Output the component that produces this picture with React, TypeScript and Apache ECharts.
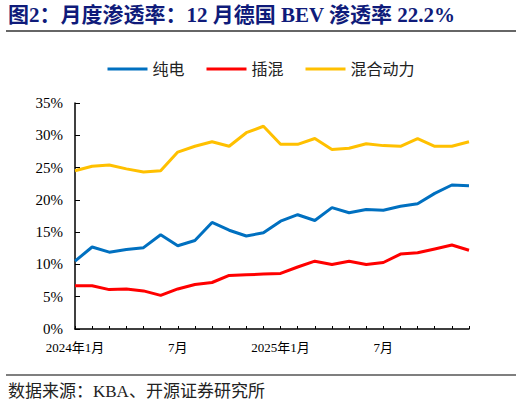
import { useEffect, useRef } from 'react';
import * as echarts from 'echarts';

const months = [
  '2024年1月', '2月', '3月', '4月', '5月', '6月', '7月', '8月', '9月', '10月', '11月', '12月',
  '2025年1月', '2月', '3月', '4月', '5月', '6月', '7月', '8月', '9月', '10月', '11月', '12月',
];
const shownLabels = [0, 6, 12, 18];

const bev = [
  10.5, 12.7, 11.9, 12.3, 12.6, 14.6, 12.9, 13.7, 16.5, 15.3, 14.4, 14.9,
  16.7, 17.7, 16.8, 18.8, 18.0, 18.5, 18.4, 19.0, 19.4, 21.0, 22.3, 22.2,
];
const phev = [
  6.7, 6.7, 6.1, 6.2, 5.9, 5.2, 6.2, 6.9, 7.2, 8.3, 8.4, 8.5,
  8.6, 9.6, 10.5, 10.0, 10.5, 10.0, 10.3, 11.6, 11.8, 12.4, 13.0, 12.2,
];
const hybrid = [
  24.5, 25.2, 25.4, 24.8, 24.3, 24.5, 27.4, 28.3, 29.0, 28.3, 30.4, 31.4,
  28.6, 28.6, 29.5, 27.8, 28.0, 28.7, 28.4, 28.3, 29.5, 28.3, 28.3, 29.0,
];

const seriesNames = ['纯电', '插混', '混合动力'];
const seriesColors = ['#0070C0', '#FF0000', '#FFC000'];

const serif = '"Times New Roman", "Liberation Serif", "Noto Sans CJK SC", serif';

export default function App() {
  const chartRef = useRef<HTMLDivElement>(null);

  useEffect(() => {
    if (!chartRef.current) return;
    const chart = echarts.init(chartRef.current, null, { renderer: 'svg' });

    const line = (name: string, data: number[], color: string) => ({
      name,
      type: 'line',
      data,
      symbol: 'none',
      lineStyle: { color, width: 3 },
      itemStyle: { color },
    });

    chart.setOption({
      animation: false,
      backgroundColor: '#fff',
      textStyle: { fontFamily: serif },
      grid: { left: 75, right: 53, top: 103, bottom: 76 },
      legend: {
        data: seriesNames,
        top: 56,
        left: 'center',
        itemWidth: 40,
        itemHeight: 3,
        itemGap: 22,
        icon: 'rect',
        textStyle: { color: '#222', fontSize: 16, fontFamily: serif },
      },
      xAxis: {
        type: 'category',
        data: months,
        boundaryGap: false,
        axisLine: { lineStyle: { color: '#000', width: 1.5 } },
        axisTick: { inside: true, length: 3, lineStyle: { color: '#000' }, interval: 0 },
        axisLabel: {
          color: '#000',
          fontSize: 13,
          margin: 12,
          fontFamily: serif,
          interval: (i: number) => shownLabels.includes(i),
        },
      },
      yAxis: {
        type: 'value',
        min: 0,
        max: 35,
        interval: 5,
        axisLine: { show: true, lineStyle: { color: '#000', width: 1.5 } },
        axisTick: { show: true, inside: true, length: 5, lineStyle: { color: '#000' } },
        axisLabel: { color: '#000', fontSize: 15, margin: 12, fontFamily: serif, formatter: '{value}%' },
        splitLine: { show: false },
      },
      graphic: [
        {
          type: 'text',
          left: 8,
          top: 4,
          style: {
            text: '图2：月度渗透率：12 月德国 BEV 渗透率 22.2%',
            fill: '#0F1B7A',
            font: `bold 21px ${serif}`,
          },
        },
        {
          type: 'line',
          shape: { x1: 6, y1: 31, x2: 516, y2: 31 },
          style: { stroke: '#333', lineWidth: 1.5 },
        },
        {
          type: 'line',
          shape: { x1: 6, y1: 375, x2: 516, y2: 375 },
          style: { stroke: '#555', lineWidth: 1.5 },
        },
        {
          type: 'text',
          left: 8,
          top: 383,
          style: {
            text: '数据来源：KBA、开源证券研究所',
            fill: '#222',
            font: `17px ${serif}`,
          },
        },
      ],
      series: [
        line(seriesNames[0], bev, seriesColors[0]),
        line(seriesNames[1], phev, seriesColors[1]),
        line(seriesNames[2], hybrid, seriesColors[2]),
      ],
    });

    return () => chart.dispose();
  }, []);

  return (
    <div
      ref={chartRef}
      style={{ position: 'fixed', left: 0, top: 0, width: 522, height: 405 }}
    />
  );
}
